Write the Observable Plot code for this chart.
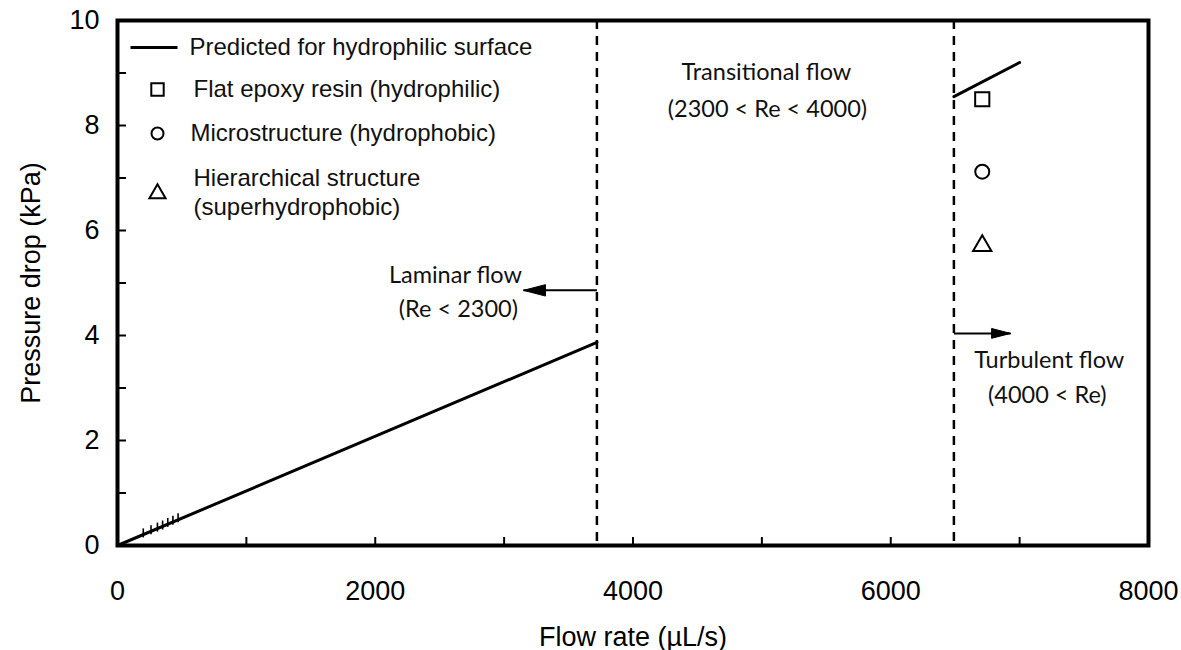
<!DOCTYPE html>
<html>
<head>
<meta charset="utf-8">
<script src="https://cdn.jsdelivr.net/npm/d3@7"></script>
<script src="https://cdn.jsdelivr.net/npm/@observablehq/plot@0.6"></script>
<style>
  html, body { margin: 0; padding: 0; background: #fff; }
</style>
</head>
<body>
<div id="chart"></div>
<script>
// ---- data ----
const flowLaminar = [0, 3720];            // µL/s
const pressureLaminar = [0, 3.87];        // kPa
const flowTurbulent = [6490, 7000];
const pressureTurbulent = [8.55, 9.2];
const regimeBoundaries = [3720, 6490];

const surfaces = ["Flat epoxy resin (hydrophilic)", "Microstructure (hydrophobic)", "Hierarchical structure (superhydrophobic)"];
const surfaceSymbols = ["square", "circle", "triangle"];
const measuredFlow = [6710, 6710, 6710];
const measuredPressure = [8.5, 7.12, 5.71];

const lowFlow = [200, 260, 310, 350, 390, 430, 470];
const lowPressure = [0.24, 0.3, 0.35, 0.39, 0.44, 0.48, 0.53];

const xTickLabels = [0, 2000, 4000, 6000, 8000];
const xTicks = [1000, 2000, 3000, 4000, 5000, 6000, 7000];
const yTickLabels = [0, 2, 4, 6, 8, 10];
const yTicks = [1, 2, 3, 4, 5, 6, 7, 8, 9];

const annotationText = ["Laminar flow", "(Re < 2300)", "Transitional flow", "(2300 < Re < 4000)", "Turbulent flow", "(4000 < Re)"];
const annotationFlow = [2622, 2645, 5035, 5043, 7230, 7215];
const annotationPressure = [5.14, 4.5, 9.01, 8.3, 3.52, 2.86];

const arrowFrom = [3720, 6490];
const arrowTo = [3150, 6930];
const arrowPressure = [4.86, 4.04];
const arrowDirection = ["left", "right"];

const legendLabels = ["Predicted for hydrophilic surface", "Flat epoxy resin (hydrophilic)", "Microstructure (hydrophobic)", "Hierarchical structure", "(superhydrophobic)"];

// ---- tables ----
const laminar = flowLaminar.map((f, i) => ({flow: f, p: pressureLaminar[i]}));
const turbulent = flowTurbulent.map((f, i) => ({flow: f, p: pressureTurbulent[i]}));
const measured = surfaces.map((s, i) => ({surface: s, symbol: surfaceSymbols[i], flow: measuredFlow[i], p: measuredPressure[i]}));
const low = lowFlow.map((f, i) => ({flow: f, p: lowPressure[i]}));
const annotations = annotationText.map((t, i) => ({text: t, flow: annotationFlow[i], p: annotationPressure[i]}));
const arrows = arrowFrom.map((f, i) => ({from: f, to: arrowTo[i], p: arrowPressure[i], dir: arrowDirection[i]}));

// ---- custom symbols ----
const hLine = {draw(ctx, size) { const r = Math.sqrt(size / Math.PI); ctx.moveTo(-r, 0); ctx.lineTo(r, 0); }};
const vLine = {draw(ctx, size) { const r = Math.sqrt(size / Math.PI); ctx.moveTo(0, -r); ctx.lineTo(0, r); }};
const arrowHead = {draw(ctx, size) { const L = Math.sqrt(size / Math.PI); ctx.moveTo(0, 0); ctx.lineTo(L, -L * 0.26); ctx.lineTo(L, L * 0.26); ctx.closePath(); }};

const annFont = "Lato, 'Open Sans', sans-serif";
const symbolSize = {square: 8, circle: 7, triangle: 6.8};
const fmt = d => String(d);

const chart = Plot.plot({
  width: 1181,
  height: 650,
  marginLeft: 117,
  marginRight: 33,
  marginTop: 20,
  marginBottom: 105,
  x: {domain: [0, 8000]},
  y: {domain: [0, 10]},
  style: {fontFamily: "'Liberation Sans', Arial, sans-serif", background: "white", color: "black"},
  marks: [
    // inward ticks
    Plot.axisX(xTicks, {anchor: "bottom", tickSize: 8, dy: -8, strokeWidth: 2, tickFormat: () => "", label: null}),
    Plot.axisY(yTicks, {anchor: "left", tickSize: 9, dx: 9, strokeWidth: 2, tickFormat: () => "", label: null}),
    // tick labels + axis titles
    Plot.axisX(xTickLabels, {anchor: "bottom", tickSize: 0, tickPadding: 35, fontSize: 27, tickFormat: fmt,
      label: "Flow rate (µL/s)", labelAnchor: "center", labelOffset: 100, labelArrow: "none"}),
    Plot.axisY(yTickLabels, {anchor: "left", tickSize: 0, tickPadding: 18, fontSize: 27, tickFormat: fmt,
      label: "Pressure drop (kPa)", labelAnchor: "center", labelOffset: 97, labelArrow: "none"}),
    // regime boundaries
    Plot.ruleX(regimeBoundaries, {stroke: "black", strokeWidth: 2.5, strokeDasharray: "9,7"}),
    // predicted lines
    Plot.line(laminar, {x: "flow", y: "p", stroke: "black", strokeWidth: 3}),
    Plot.line(turbulent, {x: "flow", y: "p", stroke: "black", strokeWidth: 3}),
    // low-flow measurements
    Plot.dot(low, {x: "flow", y: "p", symbol: vLine, r: 4.5, stroke: "black", strokeWidth: 1.6}),
    // measured points in turbulent regime
    ...surfaceSymbols.map(s => Plot.dot(measured.filter(d => d.symbol === s), {x: "flow", y: "p", symbol: s, r: symbolSize[s],
      fill: "white", stroke: "black", strokeWidth: 2})),
    // arrows
    Plot.link(arrows, {x1: "from", x2: "to", y1: "p", y2: "p", stroke: "black", strokeWidth: 2}),
    Plot.dot(arrows.filter(d => d.dir === "left"), {x: "to", y: "p", symbol: arrowHead, r: 22, fill: "black", stroke: "black", strokeWidth: 1, rotate: 0}),
    Plot.dot(arrows.filter(d => d.dir === "right"), {x: "to", y: "p", symbol: arrowHead, r: 19, fill: "black", stroke: "black", strokeWidth: 1, rotate: 180}),
    // annotations
    Plot.text(annotations, {x: "flow", y: "p", text: "text", fontSize: 23.5, fontFamily: annFont, fill: "#111", textAnchor: "middle"}),
    // legend
    Plot.dot([legendLabels[0]], {frameAnchor: "top-left", dx: 36.5, dy: 27, symbol: hLine, r: 23.5, stroke: "black", strokeWidth: 3}),
    Plot.dot([surfaces[0]], {frameAnchor: "top-left", dx: 40, dy: 69, symbol: "square", r: 7, fill: "white", stroke: "black", strokeWidth: 2}),
    Plot.dot([surfaces[1]], {frameAnchor: "top-left", dx: 40, dy: 113, symbol: "circle", r: 6, fill: "white", stroke: "black", strokeWidth: 2}),
    Plot.dot([surfaces[2]], {frameAnchor: "top-left", dx: 40, dy: 173, symbol: "triangle", r: 6, fill: "white", stroke: "black", strokeWidth: 2}),
    Plot.text([legendLabels[0]], {frameAnchor: "top-left", dx: 72, dy: 27, textAnchor: "start", lineAnchor: "middle", fontSize: 24, fill: "#111"}),
    Plot.text([legendLabels[1]], {frameAnchor: "top-left", dx: 76, dy: 69, textAnchor: "start", lineAnchor: "middle", fontSize: 24, fill: "#111"}),
    Plot.text([legendLabels[2]], {frameAnchor: "top-left", dx: 73, dy: 113, textAnchor: "start", lineAnchor: "middle", fontSize: 24, fill: "#111"}),
    Plot.text([legendLabels[3]], {frameAnchor: "top-left", dx: 76, dy: 158, textAnchor: "start", lineAnchor: "middle", fontSize: 24, fill: "#111"}),
    Plot.text([legendLabels[4]], {frameAnchor: "top-left", dx: 76, dy: 187, textAnchor: "start", lineAnchor: "middle", fontSize: 24, fill: "#111"}),
    // frame
    Plot.frame({stroke: "black", strokeWidth: 4})
  ]
});
document.getElementById("chart").appendChild(chart);
</script>
</body>
</html>
